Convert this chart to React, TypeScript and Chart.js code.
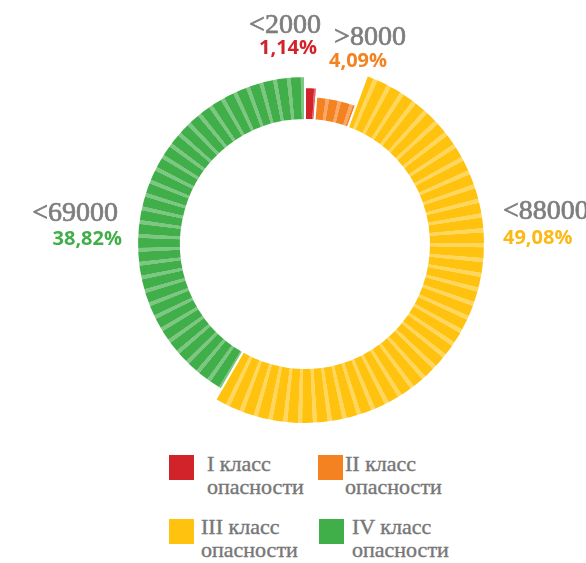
import React, { useEffect, useRef } from 'react';
import { Chart, registerables } from 'chart.js';

Chart.register(...registerables);

// ---- data ----
const categories = ['I класс опасности', 'II класс опасности', 'III класс опасности', 'IV класс опасности'];
const shares = [1.14, 4.09, 49.08, 38.82];
const rangeLabels = ['<2000', '>8000', '<88000', '<69000'];
const legendLine1 = ['I класс', 'II класс', 'III класс', 'IV класс'];
const legendLine2 = ['опасности', 'опасности', 'опасности', 'опасности'];

// ---- styles ----
const baseColors = ['#D2232A', '#F58220', '#FFC20E', '#40AE49'];
const stripeColors = ['#E3686D', '#F9A965', '#FFD75F', '#7DC783'];
const pctColors = ['#D2232A', '#F58220', '#FDB913', '#40AE49'];
const ringScale = [0.872, 0.822, 1, 0.933];
const STRIPES = 75;
const labelAnchors = [
  { align: 'center', rx: -20, ry: -211, px: -17, py: -190 },
  { align: 'center', rx: 65, ry: -199, px: 53, py: -177 },
  { align: 'left', rx: 198, ry: -25, px: 198, py: 0 },
  { align: 'right', rx: -187, ry: -23, px: -183, py: 1 },
];
const legendPos = [
  { sx: 169, sy: 455, tx: 207, ty: 452 },
  { sx: 318, sy: 455, tx: 345, ty: 452 },
  { sx: 169, sy: 519, tx: 201, ty: 515 },
  { sx: 319, sy: 519, tx: 352, ty: 515 },
];

const gradCache: Record<string, CanvasGradient> = {};
function stripeGradient(ctx: CanvasRenderingContext2D, cx: number, cy: number, i: number) {
  const key = `${i}-${cx}-${cy}`;
  if (gradCache[key]) return gradCache[key];
  const g = (ctx as any).createConicGradient(-Math.PI / 2, cx, cy);
  const base = baseColors[i];
  const light = stripeColors[i];
  for (let k = 0; k < STRIPES; k++) {
    const a = k / STRIPES;
    const b = (k + 0.66) / STRIPES;
    const c = (k + 1) / STRIPES;
    g.addColorStop(a, base);
    g.addColorStop(b, base);
    g.addColorStop(Math.min(b + 0.03 / STRIPES, 1), light);
    g.addColorStop(Math.max(c - 0.03 / STRIPES, 0), light);
  }
  gradCache[key] = g;
  return g;
}

const ringPlugin = {
  id: 'ringWidths',
  beforeDatasetsDraw(chart: any) {
    const meta = chart.getDatasetMeta(0);
    const maxR = meta.controller.outerRadius;
    meta.data.forEach((arc: any, i: number) => {
      arc.outerRadius = maxR * ringScale[i];
    });
  },
};

const labelPlugin = {
  id: 'outerLabels',
  afterDraw(chart: any) {
    const ctx = chart.ctx as CanvasRenderingContext2D;
    const { left, right, top, bottom } = chart.chartArea;
    const cx = (left + right) / 2;
    const cy = (top + bottom) / 2;
    ctx.save();
    ctx.textBaseline = 'alphabetic';
    labelAnchors.forEach((a, i) => {
      ctx.textAlign = a.align as CanvasTextAlign;
      ctx.font = '28px "Liberation Serif", serif';
      ctx.fillStyle = '#7e7e7e';
      ctx.strokeStyle = '#7e7e7e';
      ctx.lineWidth = 0.7;
      ctx.fillText(rangeLabels[i], cx + a.rx, cy + a.ry);
      ctx.strokeText(rangeLabels[i], cx + a.rx, cy + a.ry);
      ctx.font = 'bold 20px "Open Sans", sans-serif';
      ctx.fillStyle = pctColors[i];
      ctx.fillText(shares[i].toFixed(2).replace('.', ',') + '%', cx + a.px, cy + a.py);
    });
    ctx.restore();
  },
};

if (typeof document !== 'undefined') {
  document.body.style.margin = '0';
}

export default function App() {
  const ref = useRef<HTMLCanvasElement | null>(null);

  useEffect(() => {
    if (!ref.current) return;
    const chart = new Chart(ref.current, {
      type: 'doughnut',
      data: {
        labels: categories,
        datasets: [
          {
            data: shares,
            backgroundColor: (context: any) => {
              const i = context.dataIndex;
              const chart = context.chart;
              const area = chart.chartArea;
              if (i === undefined) return baseColors[0];
              if (!area) return baseColors[i];
              const cx = (area.left + area.right) / 2;
              const cy = (area.top + area.bottom) / 2;
              return stripeGradient(chart.ctx, cx, cy, i);
            },
            borderColor: '#ffffff',
            borderWidth: 2,
            hoverOffset: 0,
          },
        ],
      },
      options: {
        animation: false,
        responsive: false,
        events: [],
        radius: 180,
        cutout: '68.9%',
        layout: { padding: { left: 32, right: 8, top: 40, bottom: 0 } },
        plugins: {
          legend: { display: false },
          tooltip: { enabled: false },
        },
      } as any,
      plugins: [ringPlugin, labelPlugin],
    });
    return () => chart.destroy();
  }, []);

  return (
    <div style={{ position: 'relative', width: 586, height: 563, overflow: 'hidden' }}>
      <canvas ref={ref} width={586} height={448} style={{ position: 'absolute', left: 0, top: 0 }} />
      {categories.map((c, i) => (
        <React.Fragment key={c}>
          <div
            style={{
              position: 'absolute',
              left: legendPos[i].sx,
              top: legendPos[i].sy,
              width: 25,
              height: 25,
              background: baseColors[i],
            }}
          />
          <div
            style={{
              position: 'absolute',
              left: legendPos[i].tx,
              top: legendPos[i].ty,
              font: '22px "Liberation Serif", serif',
              lineHeight: '23px',
              color: '#777777',
              WebkitTextStroke: '0.4px #777777',
              whiteSpace: 'nowrap',
            }}
          >
            <div>{legendLine1[i]}</div>
            <div>{legendLine2[i]}</div>
          </div>
        </React.Fragment>
      ))}
    </div>
  );
}
